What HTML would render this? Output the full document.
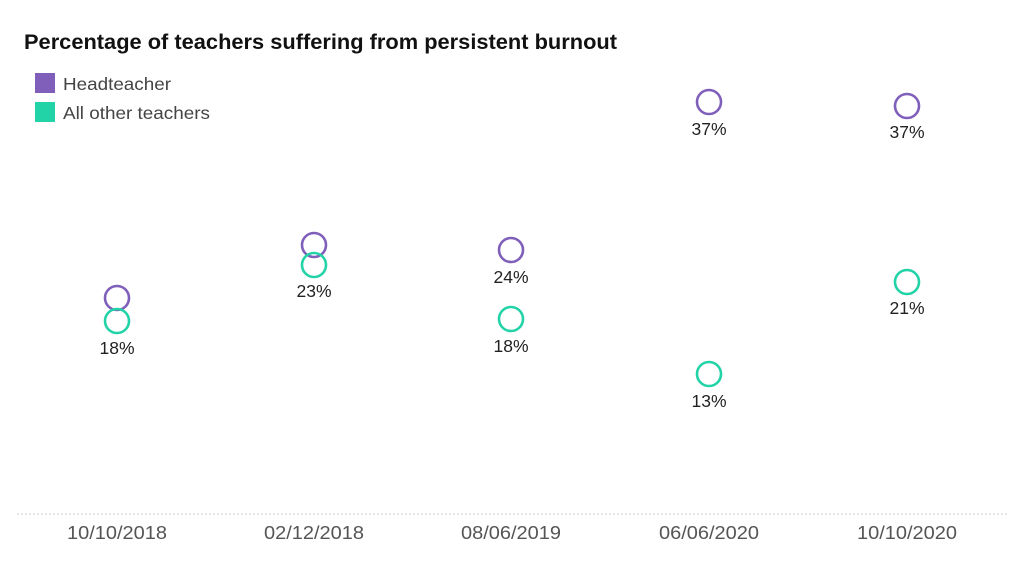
<!DOCTYPE html>
<html><head><meta charset="utf-8"><style>
body{margin:0;background:#fff;}
svg{display:block;font-family:"Liberation Sans",sans-serif;}
</style></head><body>
<svg width="1024" height="585" xmlns="http://www.w3.org/2000/svg">
<text x="24" y="49" font-size="21" font-weight="bold" fill="#111" textLength="593" lengthAdjust="spacingAndGlyphs">Percentage of teachers suffering from persistent burnout</text>
<rect x="35" y="73" width="20" height="20" fill="#7f5fba"/>
<text x="63" y="90" font-size="17.5" fill="#444" textLength="108" lengthAdjust="spacingAndGlyphs">Headteacher</text>
<rect x="35" y="102" width="20" height="20" fill="#22d3a7"/>
<text x="63" y="119" font-size="17.5" fill="#444" textLength="147" lengthAdjust="spacingAndGlyphs">All other teachers</text>
<line x1="17" y1="514" x2="1007" y2="514" stroke="#ccc" stroke-dasharray="2,2"/>
<g font-size="18" fill="#555" text-anchor="middle">
<text x="117" y="539" textLength="100" lengthAdjust="spacingAndGlyphs">10/10/2018</text>
<text x="314" y="539" textLength="100" lengthAdjust="spacingAndGlyphs">02/12/2018</text>
<text x="511" y="539" textLength="100" lengthAdjust="spacingAndGlyphs">08/06/2019</text>
<text x="709" y="539" textLength="100" lengthAdjust="spacingAndGlyphs">06/06/2020</text>
<text x="907" y="539" textLength="100" lengthAdjust="spacingAndGlyphs">10/10/2020</text>
</g>
<g fill="none" stroke-width="2.6">
<circle cx="117" cy="298" r="12" stroke="#7f5fba"/>
<circle cx="314" cy="245" r="12" stroke="#7f5fba"/>
<circle cx="511" cy="250" r="12" stroke="#7f5fba"/>
<circle cx="709" cy="102" r="12" stroke="#7f5fba"/>
<circle cx="907" cy="106" r="12" stroke="#7f5fba"/>
<circle cx="117" cy="321" r="12" stroke="#22d3a7"/>
<circle cx="314" cy="265" r="12" stroke="#22d3a7"/>
<circle cx="511" cy="319" r="12" stroke="#22d3a7"/>
<circle cx="709" cy="374" r="12" stroke="#22d3a7"/>
<circle cx="907" cy="282" r="12" stroke="#22d3a7"/>
</g>
<g font-size="17.5" fill="#222" text-anchor="middle">
<text x="117" y="354">18%</text>
<text x="314" y="297">23%</text>
<text x="511" y="283">24%</text>
<text x="511" y="352">18%</text>
<text x="709" y="135">37%</text>
<text x="709" y="407">13%</text>
<text x="907" y="138">37%</text>
<text x="907" y="314">21%</text>
</g>
</svg>
</body></html>
